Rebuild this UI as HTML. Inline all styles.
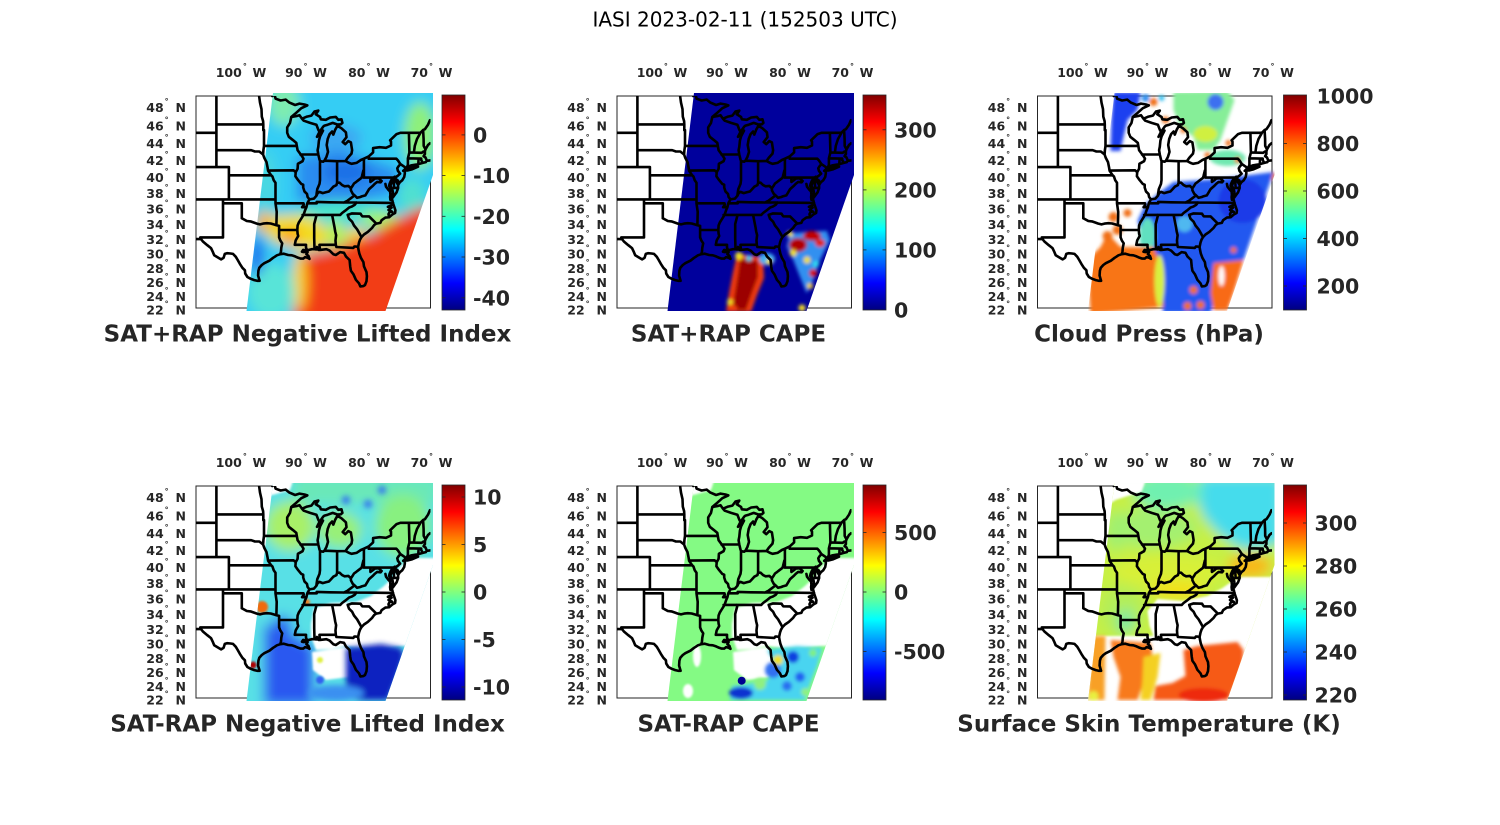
<!DOCTYPE html>
<html><head><meta charset="utf-8">
<style>
html,body{margin:0;padding:0;background:#fff;}
svg{display:block;}
text{font-family:"DejaVu Sans","Liberation Sans",sans-serif;}
.t{font-weight:bold;fill:#262626;}
</style></head><body>
<svg width="1500" height="825" viewBox="0 0 1500 825" xmlns="http://www.w3.org/2000/svg" xmlns:xlink="http://www.w3.org/1999/xlink">
<defs>
<linearGradient id="jet" x1="0" y1="1" x2="0" y2="0">
<stop offset="0" stop-color="#000080"/>
<stop offset="0.125" stop-color="#0000ff"/>
<stop offset="0.375" stop-color="#00ffff"/>
<stop offset="0.625" stop-color="#ffff00"/>
<stop offset="0.875" stop-color="#ff0000"/>
<stop offset="1" stop-color="#800000"/>
</linearGradient>
<clipPath id="bc"><rect x="0" y="0" width="234.5" height="212"/></clipPath>
<clipPath id="sw"><polygon points="77,-3 237,-3 237,79 189.5,215 50.5,215"/></clipPath>
<filter id="b6" filterUnits="userSpaceOnUse" x="-60" y="-60" width="380" height="340"><feGaussianBlur stdDeviation="6"/></filter>
<filter id="b3" filterUnits="userSpaceOnUse" x="-60" y="-60" width="380" height="340"><feGaussianBlur stdDeviation="3"/></filter>
<filter id="b2" filterUnits="userSpaceOnUse" x="-60" y="-60" width="380" height="340"><feGaussianBlur stdDeviation="1.8"/></filter>
<filter id="b1" filterUnits="userSpaceOnUse" x="-60" y="-60" width="380" height="340"><feGaussianBlur stdDeviation="1"/></filter>
<path id="st" fill="none" stroke="#000" stroke-width="2.6" stroke-linejoin="round" stroke-linecap="round" d=""/>
<g id="gaps45" fill="#fff">
<polygon points="70,-5 97,-5 94,4 80,8 72,10"/>
<polygon points="115,138 118,122 135,117 160,116 175,110 188,100 198,90 205,80 214,72 240,72 240,160 205,160 185,162 165,162 150,160 135,163 120,164 115,150"/>
<polygon points="116,166 150,161 156,167 153,191 130,194 117,184"/>
</g>
<g id="frame">
<rect x="0" y="0" width="234.5" height="212" fill="#fff" stroke="#262626" stroke-width="1"/>
</g>
<g id="lab">
<text class="t" font-size="12.5" text-anchor="middle" x="45" y="-19">100<tspan font-size="8" dx="1" dy="-8">°</tspan><tspan dx="1.3" dy="8"> W</tspan></text>
<text class="t" font-size="12.5" text-anchor="middle" x="110" y="-19">90<tspan font-size="8" dx="1" dy="-8">°</tspan><tspan dx="1.3" dy="8"> W</tspan></text>
<text class="t" font-size="12.5" text-anchor="middle" x="173" y="-19">80<tspan font-size="8" dx="1" dy="-8">°</tspan><tspan dx="1.3" dy="8"> W</tspan></text>
<text class="t" font-size="12.5" text-anchor="middle" x="235.5" y="-19">70<tspan font-size="8" dx="1" dy="-8">°</tspan><tspan dx="1.3" dy="8"> W</tspan></text>
<text class="t" font-size="12.5" text-anchor="end" x="-10" y="15.9">48<tspan font-size="8" dx="1" dy="-8">°</tspan><tspan dx="2.5" dy="8"> N</tspan></text>
<text class="t" font-size="12.5" text-anchor="end" x="-10" y="34.3">46<tspan font-size="8" dx="1" dy="-8">°</tspan><tspan dx="2.5" dy="8"> N</tspan></text>
<text class="t" font-size="12.5" text-anchor="end" x="-10" y="52">44<tspan font-size="8" dx="1" dy="-8">°</tspan><tspan dx="2.5" dy="8"> N</tspan></text>
<text class="t" font-size="12.5" text-anchor="end" x="-10" y="69.2">42<tspan font-size="8" dx="1" dy="-8">°</tspan><tspan dx="2.5" dy="8"> N</tspan></text>
<text class="t" font-size="12.5" text-anchor="end" x="-10" y="85.8">40<tspan font-size="8" dx="1" dy="-8">°</tspan><tspan dx="2.5" dy="8"> N</tspan></text>
<text class="t" font-size="12.5" text-anchor="end" x="-10" y="102">38<tspan font-size="8" dx="1" dy="-8">°</tspan><tspan dx="2.5" dy="8"> N</tspan></text>
<text class="t" font-size="12.5" text-anchor="end" x="-10" y="117.7">36<tspan font-size="8" dx="1" dy="-8">°</tspan><tspan dx="2.5" dy="8"> N</tspan></text>
<text class="t" font-size="12.5" text-anchor="end" x="-10" y="133">34<tspan font-size="8" dx="1" dy="-8">°</tspan><tspan dx="2.5" dy="8"> N</tspan></text>
<text class="t" font-size="12.5" text-anchor="end" x="-10" y="148">32<tspan font-size="8" dx="1" dy="-8">°</tspan><tspan dx="2.5" dy="8"> N</tspan></text>
<text class="t" font-size="12.5" text-anchor="end" x="-10" y="162.6">30<tspan font-size="8" dx="1" dy="-8">°</tspan><tspan dx="2.5" dy="8"> N</tspan></text>
<text class="t" font-size="12.5" text-anchor="end" x="-10" y="176.9">28<tspan font-size="8" dx="1" dy="-8">°</tspan><tspan dx="2.5" dy="8"> N</tspan></text>
<text class="t" font-size="12.5" text-anchor="end" x="-10" y="191">26<tspan font-size="8" dx="1" dy="-8">°</tspan><tspan dx="2.5" dy="8"> N</tspan></text>
<text class="t" font-size="12.5" text-anchor="end" x="-10" y="204.8">24<tspan font-size="8" dx="1" dy="-8">°</tspan><tspan dx="2.5" dy="8"> N</tspan></text>
<text class="t" font-size="12.5" text-anchor="end" x="-10" y="218.4">22<tspan font-size="8" dx="1" dy="-8">°</tspan><tspan dx="2.5" dy="8"> N</tspan></text>
<g clip-path="url(#bc)"><use xlink:href="#st" href="#st"/></g>
<rect x="246" y="-1" width="23" height="215" fill="url(#jet)" stroke="#262626" stroke-width="0.8"/>
</g>
</defs>

<rect x="0" y="0" width="1500" height="825" fill="#fff"/>
<text x="745" y="26.7" font-size="20" text-anchor="middle" fill="#000">IASI 2023-02-11 (152503 UTC)</text>

<!-- PANEL 1 -->
<g transform="translate(196,96)">
<use xlink:href="#frame" href="#frame"/>
<g clip-path="url(#sw)"><g filter="url(#b6)">
<rect x="-20" y="-20" width="280" height="260" fill="#34cdf4"/>
<ellipse cx="88" cy="8" rx="16" ry="22" fill="#7eecb0"/>
<ellipse cx="70" cy="85" rx="10" ry="30" fill="#4ad8e0"/>
<ellipse cx="224" cy="40" rx="16" ry="34" fill="#8ef07a"/>
<ellipse cx="140" cy="42" rx="26" ry="14" fill="#3aa8f2"/>
<polygon points="100.7,60.7 144,54 177.3,64 204,74 197.3,97.3 160.7,107.3 117.3,110.7 100.7,104" fill="#2b8cf0"/>
<ellipse cx="150" cy="76" rx="24" ry="12" fill="#1c70e6"/>
<ellipse cx="145" cy="114" rx="42" ry="9" fill="#48e8c8"/>
<ellipse cx="185" cy="124" rx="20" ry="9" fill="#a8f068"/>
<ellipse cx="216" cy="100" rx="14" ry="18" fill="#50e0d0"/>
<polygon points="70,120 104,118 126,126 136,146 122,154 100.7,152 77.3,146 67.3,132" fill="#f2dc24"/>
<ellipse cx="94" cy="140" rx="10" ry="8" fill="#ffa010"/>
<ellipse cx="68" cy="126" rx="8" ry="11" fill="#f8b428"/>
<ellipse cx="140" cy="138" rx="10" ry="14" fill="#b8f050"/>
<ellipse cx="160" cy="142" rx="10" ry="12" fill="#f4d428"/>
<polygon points="104,160 140,152 172,140 200,124 222,112 245,110 245,240 95,240 100,190" fill="#f23c12"/>
<ellipse cx="104" cy="185" rx="7" ry="30" fill="#f8d020"/>
<ellipse cx="75" cy="195" rx="24" ry="28" fill="#58e4d8"/>
<ellipse cx="61" cy="160" rx="7" ry="20" fill="#2468ee"/>
</g></g>
<use xlink:href="#lab" href="#lab"/>
<g stroke="#262626" stroke-width="0.8">
<line x1="246" y1="38.9" x2="249.5" y2="38.9"/><line x1="265.5" y1="38.9" x2="269" y2="38.9"/>
<line x1="246" y1="79.6" x2="249.5" y2="79.6"/><line x1="265.5" y1="79.6" x2="269" y2="79.6"/>
<line x1="246" y1="120.3" x2="249.5" y2="120.3"/><line x1="265.5" y1="120.3" x2="269" y2="120.3"/>
<line x1="246" y1="161" x2="249.5" y2="161"/><line x1="265.5" y1="161" x2="269" y2="161"/>
<line x1="246" y1="201.8" x2="249.5" y2="201.8"/><line x1="265.5" y1="201.8" x2="269" y2="201.8"/>
</g>
<text class="t" font-size="20.5" x="277" y="46.4">0</text>
<text class="t" font-size="20.5" x="277" y="87.1">-10</text>
<text class="t" font-size="20.5" x="277" y="127.8">-20</text>
<text class="t" font-size="20.5" x="277" y="168.5">-30</text>
<text class="t" font-size="20.5" x="277" y="209.3">-40</text>
<text class="t" font-size="23" text-anchor="middle" x="111.5" y="245.5">SAT+RAP Negative Lifted Index</text>
</g>

<!-- PANEL 2 -->
<g transform="translate(617,96)">
<use xlink:href="#frame" href="#frame"/>
<g clip-path="url(#sw)">
<rect x="-20" y="-20" width="280" height="260" fill="#00009c"/>
<g filter="url(#b2)">
<polygon points="120,158 146,161 147,182 140,199 134,216 109,216 112,197 116,176" fill="#f03a10"/>
<polygon points="123,162 141,165 141,181 135,197 129,214 115,214 118,196 121,177" fill="#9c0000"/>
<circle cx="122" cy="160" r="4" fill="#f0e020"/>
<circle cx="132" cy="162" r="3" fill="#30d0f0"/>
<circle cx="113" cy="206" r="3" fill="#f0e020"/>
<circle cx="117" cy="212" r="3" fill="#f04010"/>
<ellipse cx="150" cy="163" rx="8" ry="6" fill="#40b0f0"/>
<circle cx="152" cy="166" r="3" fill="#f0e020"/>
<polygon points="173,137.3 209.7,134.7 213,144 203,164 196.3,184 189.7,197.3 183,180.7 176.3,164 169.7,150.7" fill="#3090f0"/>
<ellipse cx="181" cy="149" rx="9" ry="7" fill="#b00000"/>
<ellipse cx="195" cy="140" rx="9" ry="5" fill="#c00000"/>
<ellipse cx="203" cy="147" rx="5" ry="4" fill="#e02000"/>
<circle cx="176" cy="157" r="3.5" fill="#f0e020"/>
<circle cx="190" cy="164" r="3.5" fill="#f0e020"/>
<circle cx="173" cy="138" r="3" fill="#f0e020"/>
<circle cx="196" cy="177" r="4" fill="#d00000"/>
<circle cx="193" cy="190" r="3" fill="#f0d020"/>
<circle cx="199" cy="168" r="3" fill="#30e0f0"/>
<circle cx="185" cy="212" r="3.5" fill="#f8e020"/>
</g></g>
<use xlink:href="#lab" href="#lab"/>
<g stroke="#262626" stroke-width="0.8">
<line x1="246" y1="33.8" x2="249.5" y2="33.8"/><line x1="265.5" y1="33.8" x2="269" y2="33.8"/>
<line x1="246" y1="93.9" x2="249.5" y2="93.9"/><line x1="265.5" y1="93.9" x2="269" y2="93.9"/>
<line x1="246" y1="153.9" x2="249.5" y2="153.9"/><line x1="265.5" y1="153.9" x2="269" y2="153.9"/>
</g>
<text class="t" font-size="20.5" x="277" y="41.3">300</text>
<text class="t" font-size="20.5" x="277" y="101.4">200</text>
<text class="t" font-size="20.5" x="277" y="161.4">100</text>
<text class="t" font-size="20.5" x="277" y="221.5">0</text>
<text class="t" font-size="23" text-anchor="middle" x="111.5" y="245.5">SAT+RAP CAPE</text>
</g>

<!-- PANEL 3 -->
<g transform="translate(1037.5,96)">
<use xlink:href="#frame" href="#frame"/>
<g clip-path="url(#sw)"><g filter="url(#b2)">
<polygon points="76,-4 103,-4 100,14 90,24 86,41 83,55 73,55 74,24" fill="#1a40f0"/>
<circle cx="108" cy="2" r="4" fill="#3090f0"/>
<circle cx="116" cy="6" r="4" fill="#f07018"/>
<circle cx="124" cy="2" r="3" fill="#30c0f0"/>
<circle cx="128" cy="24" r="3.5" fill="#f07018"/>
<polygon points="136,-4 190,-5 197,4 190,24 183,44 176,54 160,54 156,41 143,31 136,14" fill="#86ee98"/>
<ellipse cx="178" cy="6" rx="8" ry="8" fill="#3c70f0"/>
<ellipse cx="168" cy="38" rx="12" ry="8" fill="#d0f040"/>
<ellipse cx="190" cy="62" rx="18" ry="8" fill="#70e8b0"/>
<circle cx="146" cy="34" r="3" fill="#f07018"/>
<circle cx="191" cy="47" r="3" fill="#f07018"/>
<circle cx="200" cy="64" r="3" fill="#f07018"/>
<circle cx="170" cy="59" r="3" fill="#f07018"/>
<circle cx="235" cy="80" r="4" fill="#f08018"/>
<circle cx="223" cy="84" r="3" fill="#f07018"/>
<polygon points="100,125 108,108 120,98 136,86 180,83 236,76 206,164 176,170 178,200 173,217 126,217 120,190 112,160" fill="#2258f0"/>
<ellipse cx="205" cy="105" rx="24" ry="22" fill="#1a3ae8"/>
<ellipse cx="110" cy="140" rx="8" ry="18" fill="#60e0c0"/>
<ellipse cx="147" cy="128" rx="8" ry="8" fill="#50b8f0"/>
<polygon points="50,164 63,151 70,137 83,151 96,151 116,151 124,170 126,211 53,218" fill="#f87418"/>
<ellipse cx="122" cy="185" rx="5" ry="26" fill="#d8f040"/>
<circle cx="76" cy="121" r="5" fill="#f07018"/>
<circle cx="80" cy="134" r="5" fill="#f07018"/>
<circle cx="70" cy="140" r="5" fill="#f07018"/>
<circle cx="90" cy="117" r="4" fill="#f07018"/>
<polygon points="176,167 206,164 196,197 190,214 176,214 173,197" fill="#f86a18"/>
<ellipse cx="184" cy="180" rx="3" ry="10" fill="#fff"/>
<circle cx="150" cy="210" r="4" fill="#f07018"/>
<circle cx="163" cy="209" r="4" fill="#f07018"/>
<circle cx="156" cy="194" r="4" fill="#f07018"/>
<circle cx="196" cy="154" r="3" fill="#f07018"/>
</g></g>
<use xlink:href="#lab" href="#lab"/>
<g stroke="#262626" stroke-width="0.8">
<line x1="246" y1="47.5" x2="249.5" y2="47.5"/><line x1="265.5" y1="47.5" x2="269" y2="47.5"/>
<line x1="246" y1="95" x2="249.5" y2="95"/><line x1="265.5" y1="95" x2="269" y2="95"/>
<line x1="246" y1="142.5" x2="249.5" y2="142.5"/><line x1="265.5" y1="142.5" x2="269" y2="142.5"/>
<line x1="246" y1="190" x2="249.5" y2="190"/><line x1="265.5" y1="190" x2="269" y2="190"/>
</g>
<text class="t" font-size="20.5" x="279" y="7.5">1000</text>
<text class="t" font-size="20.5" x="279" y="55">800</text>
<text class="t" font-size="20.5" x="279" y="102.5">600</text>
<text class="t" font-size="20.5" x="279" y="150">400</text>
<text class="t" font-size="20.5" x="279" y="197.5">200</text>
<text class="t" font-size="23" text-anchor="middle" x="111.5" y="245.5">Cloud Press (hPa)</text>
</g>

<!-- PANEL 4 -->
<g transform="translate(196,486)">
<use xlink:href="#frame" href="#frame"/>
<g clip-path="url(#sw)">
<g filter="url(#b6)">
<rect x="-20" y="-20" width="280" height="260" fill="#58e0e6"/>
<rect x="97" y="-10" width="145" height="28" fill="#6ae8b8"/>
<ellipse cx="94" cy="40" rx="25" ry="25" fill="#a8f068"/>
<ellipse cx="144" cy="44" rx="22" ry="18" fill="#98f078"/>
<ellipse cx="207" cy="40" rx="28" ry="32" fill="#88f080"/>
<polygon points="68,138 100,150 118,160 118,220 68,220" fill="#2a58f0"/>
<ellipse cx="86" cy="140" rx="10" ry="10" fill="#2a60f0"/>
</g>
<g filter="url(#b1)"><use xlink:href="#gaps45" href="#gaps45"/></g>
<g filter="url(#b3)">
<polygon points="150,162 185,158 205,162 208,170 200,195 192,214 160,214 150,200" fill="#0c22c0"/>
<ellipse cx="140" cy="207" rx="28" ry="8" fill="#3a90f0"/>
<circle cx="150" cy="14" r="4" fill="#3070f0"/>
<circle cx="172" cy="18" r="4" fill="#3070f0"/>
<circle cx="186" cy="4" r="4" fill="#3070f0"/>
</g>
<g filter="url(#b1)">
<circle cx="66" cy="121" r="6" fill="#f06a10"/>
<circle cx="57" cy="179" r="3.5" fill="#b00000"/>
<circle cx="111" cy="116" r="3" fill="#f08020"/>
<circle cx="124" cy="174" r="3" fill="#e0f040"/>
<circle cx="124" cy="194" r="4" fill="#3060f0"/>
</g>
</g>
<use xlink:href="#lab" href="#lab"/>
<g stroke="#262626" stroke-width="0.8">
<line x1="246" y1="11" x2="249.5" y2="11"/><line x1="265.5" y1="11" x2="269" y2="11"/>
<line x1="246" y1="58.5" x2="249.5" y2="58.5"/><line x1="265.5" y1="58.5" x2="269" y2="58.5"/>
<line x1="246" y1="106" x2="249.5" y2="106"/><line x1="265.5" y1="106" x2="269" y2="106"/>
<line x1="246" y1="153.5" x2="249.5" y2="153.5"/><line x1="265.5" y1="153.5" x2="269" y2="153.5"/>
<line x1="246" y1="201" x2="249.5" y2="201"/><line x1="265.5" y1="201" x2="269" y2="201"/>
</g>
<text class="t" font-size="20.5" x="277" y="18.5">10</text>
<text class="t" font-size="20.5" x="277" y="66">5</text>
<text class="t" font-size="20.5" x="277" y="113.5">0</text>
<text class="t" font-size="20.5" x="277" y="161">-5</text>
<text class="t" font-size="20.5" x="277" y="208.5">-10</text>
<text class="t" font-size="23" text-anchor="middle" x="111.5" y="245.5">SAT-RAP Negative Lifted Index</text>
</g>

<!-- PANEL 5 -->
<g transform="translate(617,486)">
<use xlink:href="#frame" href="#frame"/>
<g clip-path="url(#sw)">
<rect x="-20" y="-20" width="280" height="260" fill="#84fa84"/>
<g filter="url(#b1)"><use xlink:href="#gaps45" href="#gaps45"/>
<ellipse cx="80" cy="170" rx="4" ry="11" fill="#fff"/>
<ellipse cx="71" cy="205" rx="5" ry="7" fill="#fff"/>
</g>
<g filter="url(#b2)">
<polygon points="150,164 180,160 205,162 200,180 192,200 188,214 113,214 115,200 130,198 150,195 160,180" fill="#48d4f0"/>
<circle cx="176" cy="171" r="6" fill="#1040e0"/>
<circle cx="156" cy="184" r="8" fill="#3070f0"/>
<ellipse cx="124" cy="207" rx="12" ry="6" fill="#1030d0"/>
<circle cx="183" cy="191" r="5" fill="#2060f0"/>
<circle cx="170" cy="200" r="5" fill="#2a70f0"/>
<circle cx="143" cy="198" r="6" fill="#90f080"/>
<circle cx="196" cy="167" r="4" fill="#80f080"/>
<circle cx="188" cy="206" r="4" fill="#90f080"/>
<circle cx="161" cy="174" r="5" fill="#f0e020"/>
</g>
<circle cx="124.7" cy="194.7" r="4" fill="#000090"/>
</g>
<use xlink:href="#lab" href="#lab"/>
<g stroke="#262626" stroke-width="0.8">
<line x1="246" y1="46.5" x2="249.5" y2="46.5"/><line x1="265.5" y1="46.5" x2="269" y2="46.5"/>
<line x1="246" y1="106" x2="249.5" y2="106"/><line x1="265.5" y1="106" x2="269" y2="106"/>
<line x1="246" y1="165.5" x2="249.5" y2="165.5"/><line x1="265.5" y1="165.5" x2="269" y2="165.5"/>
</g>
<text class="t" font-size="20.5" x="277" y="54">500</text>
<text class="t" font-size="20.5" x="277" y="113.5">0</text>
<text class="t" font-size="20.5" x="277" y="173">-500</text>
<text class="t" font-size="23" text-anchor="middle" x="111.5" y="245.5">SAT-RAP CAPE</text>
</g>

<!-- PANEL 6 -->
<g transform="translate(1037.5,486)">
<use xlink:href="#frame" href="#frame"/>
<g clip-path="url(#sw)">
<g filter="url(#b6)">
<rect x="-20" y="-20" width="280" height="260" fill="#c6f044"/>
<polygon points="163,-10 245,-10 245,57 213,64 200,61 180,47 166,31 160,14" fill="#44dcec"/>
<ellipse cx="130" cy="5" rx="35" ry="18" fill="#70f0b0"/>
<ellipse cx="115" cy="42" rx="45" ry="20" fill="#a4f070"/>
<ellipse cx="78" cy="45" rx="10" ry="20" fill="#a0f070"/>
<ellipse cx="130" cy="85" rx="55" ry="16" fill="#d8f038"/>
<ellipse cx="140" cy="104" rx="28" ry="9" fill="#f2e018"/>
<ellipse cx="212" cy="80" rx="22" ry="12" fill="#f8b818"/>
<ellipse cx="85" cy="125" rx="22" ry="25" fill="#b4ee58"/>
<ellipse cx="88" cy="135" rx="8" ry="12" fill="#78e8a8"/>
</g>
<g filter="url(#b1)" fill="#fff">
<polygon points="70,-5 108,-5 104,6 90,10 78,14 72,18"/>
<polygon points="112,140 110,125 120,113 145,115 170,110 185,102 195,95 205,91 240,91 240,160 205,157 185,159 160,158 140,160 128,160 118,155"/>
<rect x="40" y="150" width="200" height="70"/>
</g>
<g filter="url(#b2)">
<polygon points="54,150 68,150 67,214 50,214" fill="#f8a028"/>
<circle cx="56" cy="210" r="5" fill="#e8f040"/>
<polygon points="73,154 113,157 116,177 106,197 100,214 80,214 83,191 76,171" fill="#f87a1c"/>
<polygon points="106,171 123,167 120,191 113,214 103,214 105,194" fill="#f4d020"/>
<polygon points="146,164 160,160 200,156 206,164 205,185 195,205 190,214 116,214 118,200 135,197 148,190" fill="#f65a18"/>
<ellipse cx="166" cy="209" rx="25" ry="7" fill="#ee2a10"/>
</g>
</g>
<use xlink:href="#lab" href="#lab"/>
<g stroke="#262626" stroke-width="0.8">
<line x1="246" y1="37" x2="249.5" y2="37"/><line x1="265.5" y1="37" x2="269" y2="37"/>
<line x1="246" y1="80" x2="249.5" y2="80"/><line x1="265.5" y1="80" x2="269" y2="80"/>
<line x1="246" y1="123" x2="249.5" y2="123"/><line x1="265.5" y1="123" x2="269" y2="123"/>
<line x1="246" y1="166" x2="249.5" y2="166"/><line x1="265.5" y1="166" x2="269" y2="166"/>
<line x1="246" y1="209" x2="249.5" y2="209"/><line x1="265.5" y1="209" x2="269" y2="209"/>
</g>
<text class="t" font-size="20.5" x="277" y="44.5">300</text>
<text class="t" font-size="20.5" x="277" y="87.5">280</text>
<text class="t" font-size="20.5" x="277" y="130.5">260</text>
<text class="t" font-size="20.5" x="277" y="173.5">240</text>
<text class="t" font-size="20.5" x="277" y="216.5">220</text>
<text class="t" font-size="23" text-anchor="middle" x="111.5" y="245.5">Surface Skin Temperature (K)</text>
</g>
</svg>
<script>
(function(){
var L=[
[[-107.3,45],[-104.05,45]],
[[-104.05,49],[-104.05,41]],
[[-104.05,45.94],[-96.56,45.94]],
[[-104.05,43],[-98.5,43],[-97.9,42.85],[-97.2,42.85],[-96.6,42.5]],
[[-107.3,41],[-102.05,41],[-102.05,37]],
[[-102.05,40],[-95.3,40]],
[[-107.3,37],[-94.62,37]],
[[-103,37],[-103,32],[-106.62,32]],
[[-107.3,31.78],[-106.5,31.78],[-106.2,31.45],[-105.5,30.95],[-104.9,30.55],[-104.6,30.0],[-104.4,29.55],[-103.9,29.3],[-103.3,28.98],[-102.9,29.2],[-102.7,29.75],[-102.35,29.85],[-101.8,29.8],[-101.4,29.75],[-100.95,29.35],[-100.65,28.9],[-100.3,28.35],[-99.9,27.8],[-99.5,27.45],[-99.45,27.0],[-99.1,26.5],[-98.6,26.25],[-98.0,26.05],[-97.55,25.95],[-97.15,25.95]],
[[-103,36.5],[-100,36.5],[-100,34.56]],
[[-100,34.56],[-99.6,34.38],[-99.2,34.2],[-98.6,34.15],[-98.1,34.0],[-97.6,33.85],[-97.1,33.75],[-96.6,33.85],[-96.0,33.9],[-95.4,33.87],[-94.9,33.75],[-94.48,33.64],[-94.04,33.55]],
[[-94.04,33.55],[-94.04,32.0],[-93.85,31.6],[-93.55,31.2],[-93.7,30.6],[-93.75,30.1],[-93.85,29.7]],
[[-94.62,37],[-94.62,36.5],[-94.43,35.4],[-94.48,33.64]],
[[-94.04,33.02],[-91.15,33.0]],
[[-94.62,36.5],[-90.15,36.5],[-90.1,36.3],[-90.38,36.0],[-89.7,36.0]],
[[-94.62,37],[-94.62,39.1],[-94.9,39.4],[-95.1,39.85],[-95.3,40]],
[[-96.6,42.5],[-96.4,42.1],[-96.05,41.6],[-95.9,41.0],[-95.8,40.55],[-95.3,40]],
[[-96.56,45.94],[-96.56,45.3],[-96.45,45.3],[-96.45,43.5],[-96.55,43.0],[-96.6,42.5]],
[[-97.23,49],[-97.1,48.3],[-96.85,47.6],[-96.8,46.8],[-96.6,46.3],[-96.56,45.94]],
[[-96.45,43.5],[-91.22,43.5]],
[[-95.77,40.58],[-91.73,40.61],[-91.4,40.38]],
[[-92.1,46.75],[-92.3,46.1],[-92.75,45.6],[-92.75,45.0],[-92.5,44.55],[-91.9,44.2],[-91.3,43.85],[-91.22,43.5],[-91.1,43.0],[-90.7,42.6],[-90.4,42.3],[-90.15,42.0],[-90.3,41.7],[-91.05,41.4],[-91.1,40.8],[-91.4,40.38],[-91.45,39.9],[-91.0,39.4],[-90.5,38.95],[-90.2,38.85],[-90.2,38.5],[-90.0,38.0],[-89.6,37.7],[-89.5,37.3],[-89.2,37.0]],
[[-89.2,37.0],[-89.4,36.7],[-89.55,36.5],[-89.7,36.0],[-89.9,35.6],[-90.1,35.1],[-90.3,34.8],[-90.6,34.4],[-90.9,34.0],[-91.1,33.6],[-91.15,33.0],[-91.1,32.5],[-91.0,32.2],[-91.4,31.6],[-91.55,31.0]],
[[-91.55,31.0],[-89.75,31.0],[-89.75,30.6],[-89.55,30.2]],
[[-90.3,35.0],[-84.3,35.0]],
[[-88.2,35.0],[-88.1,34.9],[-88.45,33.8],[-88.45,31.9],[-88.4,30.4]],
[[-85.6,35.0],[-85.2,33.3],[-85.1,32.8],[-84.95,32.3],[-85.05,31.6],[-85.0,31.0]],
[[-87.5,30.3],[-87.6,30.85],[-87.6,31.0],[-85.0,31.0]],
[[-85.0,31.0],[-84.9,30.7],[-82.2,30.57],[-82.05,30.75],[-81.75,30.75],[-81.45,30.7]],
[[-83.1,35.0],[-82.9,34.5],[-82.4,34.1],[-82.1,33.6],[-81.6,33.1],[-81.2,32.5],[-80.9,32.05]],
[[-83.1,35.0],[-82.4,35.2],[-81.05,35.15],[-80.95,35.0],[-80.8,34.82],[-79.7,34.8],[-78.55,33.85]],
[[-84.3,35.0],[-84.0,35.25],[-83.5,35.55],[-82.9,35.95],[-82.4,36.1],[-82.0,36.3],[-81.7,36.6]],
[[-89.5,36.5],[-88.05,36.5],[-88.05,36.68],[-86.0,36.63],[-83.7,36.6],[-81.7,36.6],[-75.87,36.55]],
[[-83.7,36.6],[-83.1,36.85],[-82.6,37.15],[-82.0,37.5],[-82.3,37.7],[-82.6,38.15],[-82.6,38.4]],
[[-82.0,37.5],[-81.6,37.2],[-81.1,37.3],[-80.8,37.4],[-80.3,37.5],[-80.0,37.9],[-79.7,38.3],[-79.4,38.5],[-79.1,38.7],[-78.8,38.95],[-78.4,39.2],[-77.85,39.15],[-77.7,39.3]],
[[-77.7,39.3],[-78.2,39.65],[-78.8,39.6],[-79.0,39.45],[-79.48,39.2],[-79.48,39.72]],
[[-80.52,39.72],[-75.79,39.72]],
[[-80.52,39.72],[-80.52,42.0]],
[[-89.2,37.0],[-88.5,37.1],[-88.1,37.45],[-87.9,37.8],[-87.6,37.95],[-87.1,37.8],[-86.6,37.9],[-86.1,38.0],[-85.8,38.25],[-85.4,38.6],[-84.9,38.8],[-84.8,39.1],[-84.4,39.1],[-84.0,38.8],[-83.6,38.65],[-83.0,38.7],[-82.6,38.4],[-82.3,38.75],[-82.1,39.0],[-81.75,39.2],[-81.4,39.4],[-80.9,39.7],[-80.8,40.0],[-80.6,40.6],[-80.52,40.64]],
[[-87.53,41.7],[-87.53,39.4],[-87.6,38.95],[-87.95,38.3],[-88.05,37.8],[-88.1,37.5]],
[[-84.8,41.7],[-84.8,39.1]],
[[-86.82,41.76],[-84.8,41.7],[-83.45,41.73]],
[[-90.64,42.5],[-87.8,42.5]],
[[-90.4,46.57],[-90.1,46.35],[-89.1,46.1],[-88.1,45.9],[-87.8,45.35],[-87.6,45.1]],
[[-75.79,39.72],[-75.7,38.45],[-75.05,38.45]],
[[-75.79,39.72],[-75.6,39.83],[-75.4,39.8]],
[[-75.4,39.8],[-75.1,39.95],[-74.75,40.2],[-75.1,40.55],[-75.2,40.85],[-75.05,41.05],[-74.7,41.36]],
[[-79.76,42.27],[-79.76,42.0],[-75.35,42.0],[-75.1,41.8],[-74.7,41.36]],
[[-74.7,41.36],[-74.0,41.0],[-73.92,40.9]],
[[-73.65,40.98],[-73.5,41.3],[-73.5,42.05],[-73.27,42.75],[-73.35,45.0]],
[[-72.55,42.73],[-72.4,43.5],[-72.05,44.3],[-71.5,45.01]],
[[-73.27,42.75],[-71.3,42.7],[-71.0,42.85],[-70.8,42.87]],
[[-73.5,42.05],[-71.8,42.02],[-71.38,42.02],[-71.38,41.85],[-71.12,41.5]],
[[-71.8,42.02],[-71.85,41.33]],
[[-70.7,43.1],[-70.98,43.5],[-71.0,44.3],[-71.08,45.3]],
[[-95.15,49.0],[-94.8,49.2],[-94.6,48.72],[-93.8,48.52],[-93.0,48.62],[-92.4,48.3],[-91.5,48.05],[-90.8,48.2],[-90.0,48.1],[-89.55,48.0],[-90.5,47.7],[-91.5,47.1],[-92.1,46.75],[-91.3,46.85],[-90.8,46.95],[-90.4,46.57],[-89.6,46.8],[-88.9,46.9],[-88.4,47.35],[-87.8,47.45],[-88.2,47.05],[-87.5,46.75],[-87.4,46.5],[-86.6,46.45],[-85.9,46.7],[-85.0,46.76],[-84.6,46.45],[-84.1,46.5],[-83.95,46.1],[-84.2,45.95],[-84.7,45.92],[-85.5,46.1],[-86.3,45.9],[-86.8,45.8],[-87.0,45.7],[-87.6,45.1],[-88.0,44.55],[-87.4,45.0],[-87.05,45.25],[-87.5,44.6],[-87.7,44.1],[-87.8,43.4],[-87.9,43.0],[-87.8,42.5],[-87.6,41.9],[-87.5,41.7],[-87.0,41.65],[-86.82,41.76]],
[[-86.82,41.76],[-86.5,42.2],[-86.25,42.8],[-86.45,43.6],[-86.3,44.3],[-86.0,44.85],[-85.6,45.15],[-85.4,44.8],[-85.1,45.35],[-84.75,45.78],[-84.1,45.5],[-83.4,45.05],[-83.3,44.5],[-83.9,43.95],[-83.5,43.7],[-83.0,44.05],[-82.6,43.9],[-82.4,43.0],[-82.5,42.6],[-83.1,42.1],[-83.45,41.73]],
[[-83.45,41.73],[-82.9,41.5],[-82.5,41.4],[-81.7,41.5],[-81.0,41.85],[-80.52,42.0],[-79.76,42.27],[-79.05,42.75],[-79.05,43.25],[-78.0,43.35],[-77.0,43.28],[-76.2,43.55],[-76.2,44.0],[-76.35,44.15],[-75.3,44.85],[-74.7,45.0],[-73.35,45.0],[-71.5,45.01],[-71.1,45.3],[-70.8,45.4],[-70.3,45.9],[-70.0,46.4]],
[[-87.5,30.3],[-86.5,30.4],[-86.0,30.2],[-85.4,29.7],[-85.0,29.6],[-84.3,30.0],[-83.7,29.9],[-83.4,29.4],[-82.8,28.9],[-82.7,28.0],[-82.6,27.4],[-82.2,26.9],[-81.8,26.1],[-81.3,25.6],[-81.1,25.15],[-80.6,25.2],[-80.35,25.35],[-80.1,25.9],[-80.05,26.6],[-80.1,27.2],[-80.5,28.0],[-80.6,28.6],[-81.0,29.2],[-81.25,29.8],[-81.4,30.4],[-81.45,30.7],[-81.3,31.3],[-81.15,31.7],[-80.9,32.05],[-80.5,32.4],[-79.9,32.75],[-79.2,33.3],[-78.9,33.65],[-78.55,33.85],[-77.9,33.95],[-77.7,34.3],[-77.1,34.65],[-76.5,34.7],[-76.0,35.05],[-75.55,35.25],[-75.5,35.6],[-75.7,36.1],[-75.9,36.55],[-76.0,36.92],[-76.3,36.95]],
[[-76.3,36.95],[-76.35,37.3],[-76.3,37.6],[-76.35,38.0],[-76.3,38.4],[-76.5,38.7],[-76.4,39.0],[-76.2,39.35],[-76.0,39.55]],
[[-76.0,39.55],[-76.1,39.1],[-76.3,38.7],[-76.0,38.3],[-75.9,37.9],[-75.95,37.2],[-75.6,37.6],[-75.3,37.9],[-75.1,38.35],[-75.05,38.8],[-75.4,39.25],[-75.55,39.6]],
[[-75.55,39.6],[-75.1,39.35],[-74.95,38.95],[-74.8,39.15],[-74.4,39.4],[-74.1,39.8],[-74.0,40.2],[-74.0,40.5],[-74.25,40.55],[-74.0,40.7],[-73.92,40.9]],
[[-74.0,40.6],[-73.5,40.6],[-72.8,40.75],[-71.9,41.05],[-72.3,41.0],[-72.8,40.95],[-73.6,40.9],[-73.92,40.9]],
[[-73.65,40.98],[-73.0,41.2],[-72.4,41.28],[-71.85,41.33],[-71.4,41.45],[-71.12,41.5],[-70.9,41.55],[-70.65,41.6],[-70.5,41.75],[-70.0,41.8]],
[[-70.55,41.9],[-70.7,42.15],[-71.0,42.3],[-70.8,42.55],[-70.8,42.87],[-70.7,43.1],[-70.3,43.6],[-70.0,43.8]],
[[-77.1,38.95],[-77.0,38.6],[-76.6,38.2],[-76.35,38.0]],
[[-76.5,34.7],[-76.6,35.1],[-76.4,35.4],[-76.0,35.4],[-76.6,35.65],[-76.1,35.95],[-76.7,36.05],[-76.0,36.3],[-75.9,36.55]],
[[-97.15,25.95],[-97.4,26.7],[-97.35,27.4],[-97.2,27.8],[-96.8,28.2],[-96.4,28.45],[-95.6,28.8],[-95.0,29.2],[-94.75,29.35],[-94.4,29.55],[-93.85,29.7],[-93.3,29.77],[-92.6,29.6],[-92.0,29.55],[-91.5,29.4],[-91.0,29.2],[-90.6,29.1],[-90.2,29.1],[-89.9,29.3],[-89.5,29.2],[-89.2,29.05],[-89.35,29.45],[-89.7,29.7],[-89.5,30.0],[-89.6,30.2],[-89.3,30.3],[-88.8,30.4],[-88.4,30.4],[-88.1,30.35],[-88.0,30.7],[-87.9,30.4],[-87.75,30.3],[-87.5,30.3]],
[[-90.4,30.05],[-90.2,30.3],[-89.85,30.25],[-89.75,30.05],[-90.1,30.0],[-90.4,30.05]]
];
function P(lo,la){
  var x=(lo+107.3)*6.27;
  var y=(0.98376-Math.log(Math.tan(Math.PI/4+la*Math.PI/360)))*359.25;
  return x.toFixed(1)+','+y.toFixed(1);
}
var d='';
for(var i=0;i<L.length;i++){
  var l=L[i];
  d+='M'+P(l[0][0],l[0][1]);
  for(var j=1;j<l.length;j++){d+='L'+P(l[j][0],l[j][1]);}
}
document.getElementById('st').setAttribute('d',d);
})();
</script>
</body></html>
